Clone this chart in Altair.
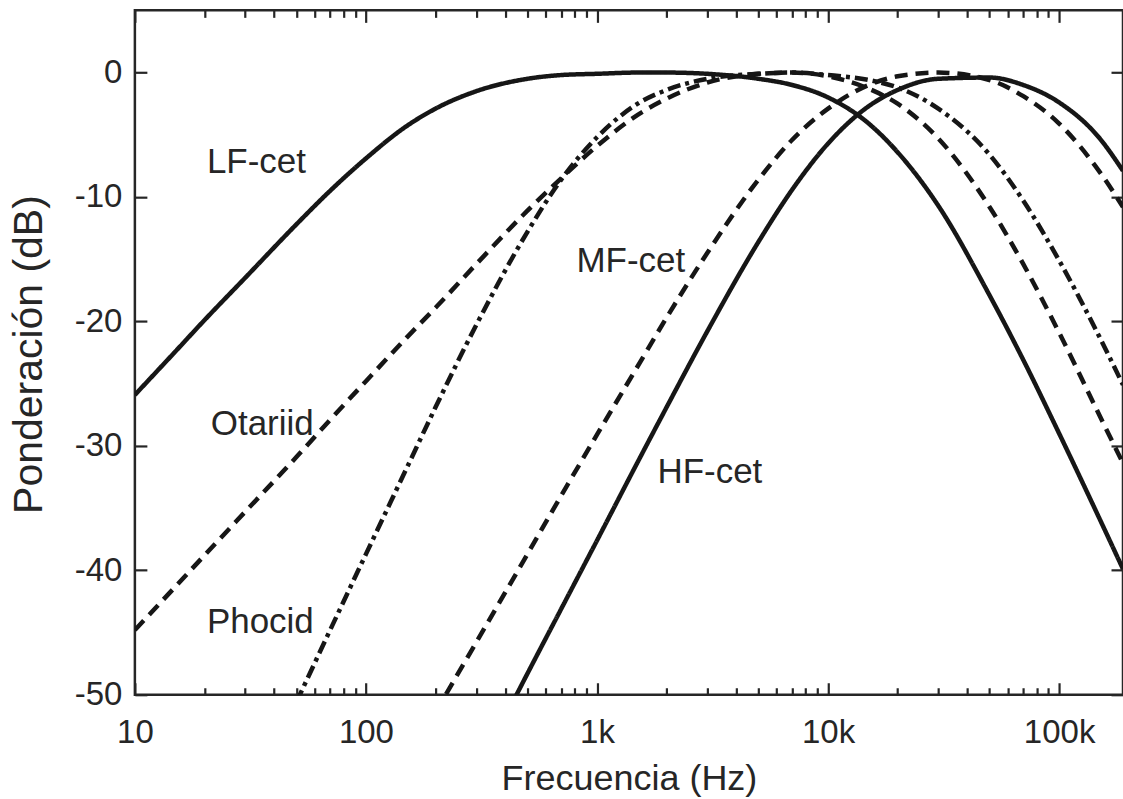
import altair as alt
import pandas as pd

# ---------------- data ----------------
freq_full = [10, 15, 20, 30, 50, 70, 100, 150, 200, 300, 500, 700, 1000, 1500,
             2000, 3000, 5000, 7000, 10000, 15000, 20000, 30000, 50000, 70000,
             100000, 150000, 189000]

lf_db = [-25.9, -22.4, -19.9, -16.5, -12.2, -9.5, -6.9, -4.3, -2.9, -1.5, -0.5,
         -0.2, -0.1, 0.0, 0.0, -0.1, -0.5, -1.0, -2.0, -4.1, -6.4, -10.7, -17.9,
         -23.1, -29.0, -35.9, -39.9]

pw_db = [-44.8, -41.3, -38.8, -35.3, -30.9, -27.9, -24.8, -21.3, -18.9, -15.4,
         -11.1, -8.5, -5.9, -3.4, -2.1, -0.8, -0.1, 0.0, -0.3, -1.3, -2.5, -5.3,
         -10.8, -15.4, -20.9, -27.6, -31.4]

ow_freq = [50, 70, 100, 150, 200, 300, 500, 700, 1000, 1500, 2000, 3000, 5000,
           7000, 10000, 15000, 20000, 30000, 50000, 70000, 100000, 150000, 189000]
ow_db = [-50.6, -44.8, -38.7, -31.8, -26.9, -20.3, -12.8, -8.6, -5.2, -2.5, -1.4,
         -0.5, -0.1, 0.0, -0.2, -0.6, -1.2, -2.9, -6.6, -10.3, -15.1, -21.3, -25.1]

mf_freq = [200, 300, 500, 700, 1000, 1500, 2000, 3000, 5000, 7000, 10000, 15000,
           20000, 30000, 50000, 70000, 100000, 150000, 189000]
mf_db = [-51.4, -45.8, -38.7, -34.0, -29.1, -23.6, -19.7, -14.5, -8.6, -5.4, -2.9,
         -1.0, -0.3, 0.0, -0.6, -1.9, -4.1, -8.0, -10.8]

hf_freq = [400, 500, 700, 1000, 1500, 2000, 3000, 5000, 7000, 10000, 15000, 20000,
           30000, 50000, 70000, 100000, 150000, 189000]
hf_db = [-51.8, -48.3, -43.1, -37.6, -31.3, -26.9, -20.8, -13.6, -9.4, -5.7, -2.7,
         -1.4, -0.5, -0.4, -1.0, -2.4, -5.3, -7.9]

curve_names = ["LF", "PW", "OW", "MF", "HF"]
curve_styles = ["solid", "dashed", "dashdot", "dashed", "solid"]

label_texts = ["LF-cet", "MF-cet", "HF-cet", "Otariid", "Phocid"]
label_freq = [20.5, 815, 1826, 21.3, 20.5]
label_db = [-8.1, -16.0, -33.0, -29.1, -45.0]

x_major = [10, 100, 1000, 10000, 100000]
x_minor = [m * d for d in [10, 100, 1000, 10000, 100000] for m in range(2, 10)
           if m * d <= 189000]
y_major = [-50, -40, -30, -20, -10, 0]

# ---------------- tables ----------------
rows = []
series = [(freq_full, lf_db), (freq_full, pw_db), (ow_freq, ow_db),
          (mf_freq, mf_db), (hf_freq, hf_db)]
for name, style, (fs, ds) in zip(curve_names, curve_styles, series):
    for f, d in zip(fs, ds):
        rows.append({"curve": name, "style": style, "f": f, "db": d})
df = pd.DataFrame(rows)
labels_df = pd.DataFrame({"label": label_texts, "f": label_freq, "db": label_db})

# ---------------- styling ----------------
FONT = "Liberation Sans"
INK = "#262626"
W, H = 989, 685

xscale = alt.Scale(type="log", domain=[10, 189000], nice=False)
yscale = alt.Scale(domain=[-50, 5], nice=False, zero=False)


def tick_axis(orient, values, size):
    return alt.Axis(orient=orient, values=values, labels=False, domain=False,
                    grid=False, title=None, tickColor=INK, tickWidth=2.2,
                    tickSize=alt.ExprRef(str(-size)))


x_label_axis = alt.Axis(
    orient="bottom", values=x_major, ticks=False, domain=False, grid=False,
    labelExpr="datum.value >= 1000 ? (datum.value / 1000) + 'k' : '' + datum.value",
    labelFont=FONT, labelFontSize=33, labelColor=INK, labelPadding=22,
    labelFlush=False, labelOverlap=False,
    title="Frecuencia (Hz)", titleFont=FONT, titleFontSize=36,
    titleFontWeight="normal", titleColor=INK, titleY=95,
    titleBaseline="alphabetic")

y_label_axis = alt.Axis(
    orient="left", values=y_major, ticks=False, domain=False, grid=False,
    labelExpr="'' + datum.value",
    labelFont=FONT, labelFontSize=33, labelColor=INK, labelPadding=13,
    title="Ponderación (dB)", titleFont=FONT, titleFontSize=41,
    titleFontWeight="normal", titleColor=INK, titleX=-93, titleY=344,
    titleAngle=-90, titleAlign="center", titleBaseline="alphabetic")

lines = alt.Chart(df).mark_line(
    strokeWidth=4.5, clip=True, interpolate="monotone", color="#161616",
    strokeCap="butt"
).encode(
    x=alt.X("f:Q", scale=xscale, axis=x_label_axis),
    y=alt.Y("db:Q", scale=yscale, axis=y_label_axis),
    strokeDash=alt.StrokeDash(
        "style:N",
        scale=alt.Scale(domain=["solid", "dashed", "dashdot"],
                        range=[[1, 0], [13, 8], [13, 5, 4, 5]]),
        legend=None),
    detail="curve:N",
)


def ghost(xaxis, yaxis):
    return alt.Chart(df).mark_line(opacity=0).encode(
        x=alt.X("f:Q", scale=xscale, axis=xaxis),
        y=alt.Y("db:Q", scale=yscale, axis=yaxis),
        detail="curve:N",
    )


ticks_a = ghost(tick_axis("bottom", x_major, 12), tick_axis("left", y_major, 12))
ticks_b = ghost(tick_axis("bottom", x_minor, 7), tick_axis("right", y_major, 12))
ticks_c = ghost(tick_axis("top", x_major, 12), None)
ticks_d = ghost(tick_axis("top", x_minor, 7), None)

texts = alt.Chart(labels_df).mark_text(
    align="left", baseline="alphabetic", font=FONT, fontSize=35, color=INK
).encode(
    x=alt.X("f:Q", scale=xscale, axis=None),
    y=alt.Y("db:Q", scale=yscale, axis=None),
    text="label:N",
)

chart = alt.layer(lines, ticks_a, ticks_b, ticks_c, ticks_d, texts).resolve_axis(
    x="independent", y="independent"
).properties(
    width=W, height=H, autosize="none",
    padding={"left": 135, "top": 10, "right": 0, "bottom": 104},
    background="white",
).configure_view(stroke=INK, strokeWidth=2.5)

chart.save("out.html", embed_options={"renderer": "svg", "actions": False})
